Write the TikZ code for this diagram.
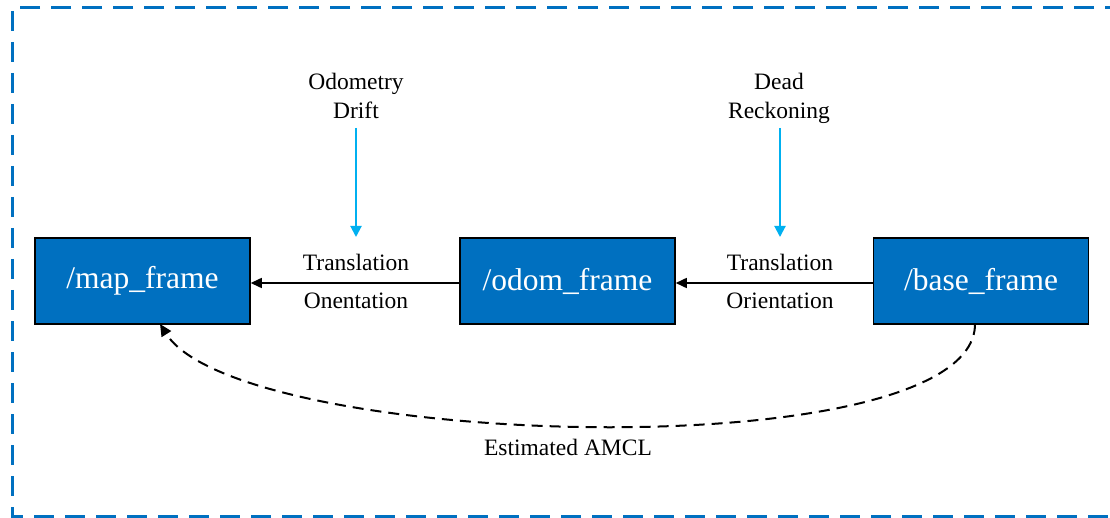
\documentclass[tikz,border=0pt]{standalone}
\usepackage{fontspec}
\setmainfont{Liberation Serif}
\usetikzlibrary{arrows.meta}
\definecolor{boxblue}{HTML}{0070C0}
\definecolor{lightblue}{HTML}{00B0F0}
\tikzset{
  frame/.style={draw=black, line width=1.5pt, fill=boxblue, text=white, minimum width=215pt, minimum height=86pt, inner sep=0pt, font=\fontsize{31.5}{36}\selectfont},
  lbl/.style={font=\fontsize{23.5}{29}\selectfont, inner sep=0pt, align=center},
  link/.style={draw=black, line width=1.5pt, -{Triangle[length=11pt,width=10pt]}},
  drift/.style={draw=lightblue, line width=2pt, -{Triangle[length=11pt,width=11pt]}},
  amcl/.style={draw=black, line width=2pt, dash pattern=on 11pt off 7pt, -{Triangle[length=12pt,width=11pt]}},
  border/.style={draw=boxblue, line width=3pt, dash pattern=on 20pt off 11pt}
}
\begin{document}
\begin{tikzpicture}[x=1pt,y=-1pt]
\useasboundingbox (0,0) rectangle (1110,518);
\clip (0,0) rectangle (1110,518);
\draw[border] (1125,8) -- (12,8) -- (12,516) -- (1125,516);
\node[frame] (map) at (142.5,281) {/map\_frame};
\node[frame] (odom) at (567.5,281) {/odom\_frame};
\node[frame] (base) at (981,281) {/base\_frame};
\draw[link] ([yshift=-2pt]odom.west) -- ([yshift=-2pt]map.east);
\draw[link] ([yshift=-2pt]base.west) -- ([yshift=-2pt]odom.east);
\node[lbl] (t1) at (356,262) {Translation};
\node[lbl] (o1) at (356,301) {Onentation};
\node[lbl] (t2) at (780,262) {Translation};
\node[lbl] (o2) at (780,301) {Orientation};
\node[lbl] (od) at (356,96) {Odometry\\Drift};
\node[lbl] (dr) at (779,98) {Dead\\Reckoning};
\coordinate (d1) at (356,128);
\coordinate (d2) at (780,128);
\draw[drift] (d1) -- (356,237);
\draw[drift] (d2) -- (780,237);
\coordinate (bs) at (975,324);
\coordinate (me) at (160,324);
\draw[amcl] (bs) .. controls (975,470) and (240,450) .. (me);
\node[lbl] (est) at (568,447) {Estimated AMCL};
\end{tikzpicture}
\end{document}
